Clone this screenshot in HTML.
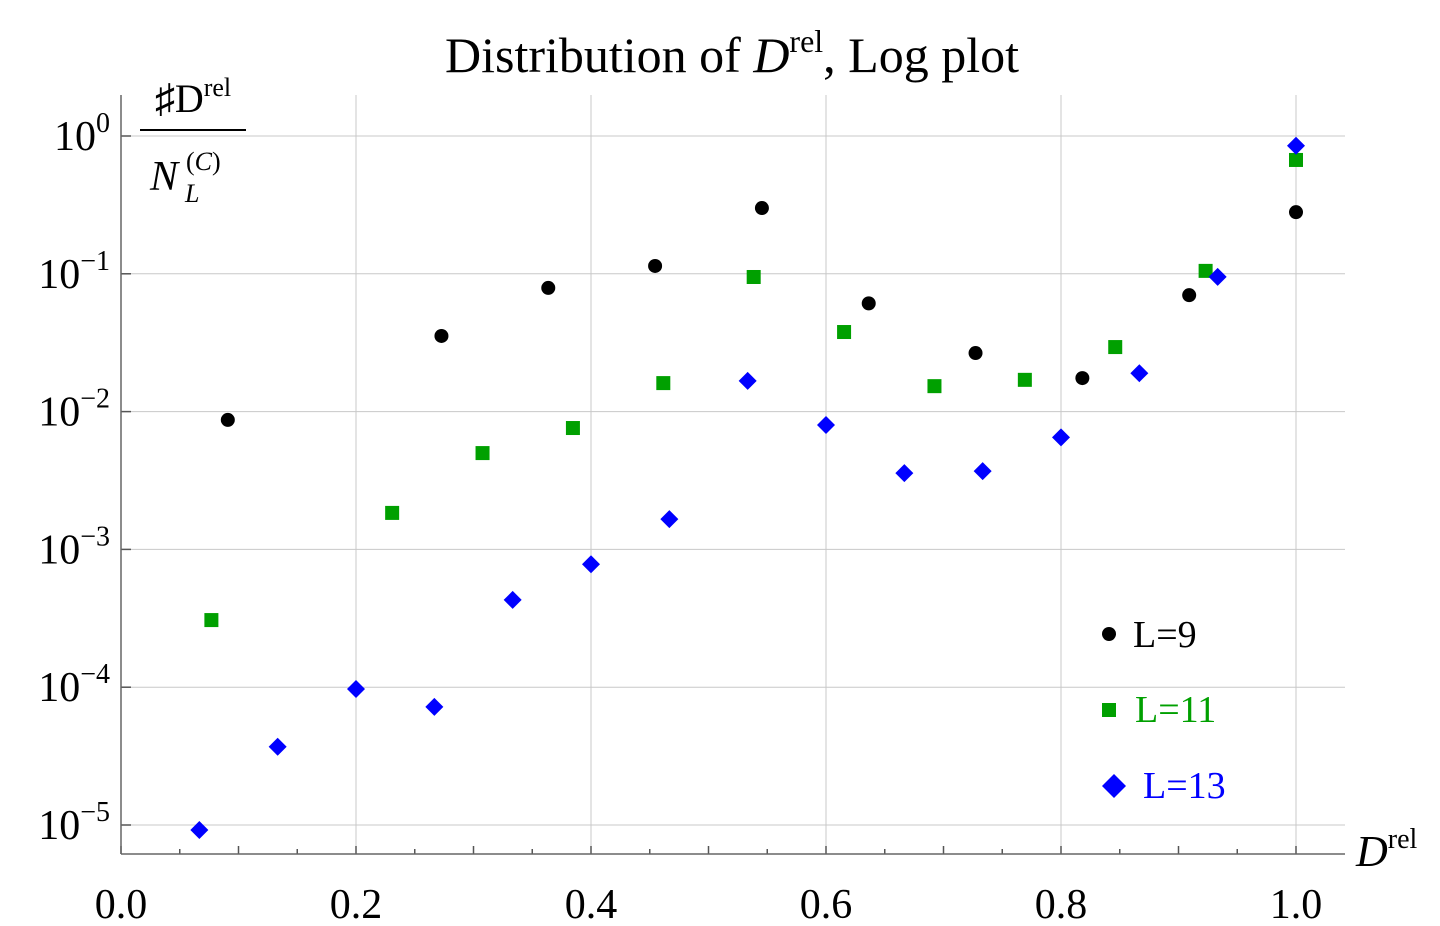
<!DOCTYPE html>
<html><head><meta charset="utf-8"><style>
body{margin:0;background:#fff}
svg{display:block;font-family:"Liberation Serif",serif}
</style></head><body>
<svg id="chart" width="1440" height="926" viewBox="0 0 1440 926">
<text x="732" y="72" text-anchor="middle" font-size="50">Distribution of <tspan font-style="italic">D</tspan><tspan font-size="32" dy="-20">rel</tspan><tspan dy="20">, Log plot</tspan></text>
<g id="grid"></g>
<g id="axes"></g>
<g id="marks"></g>
<g>
<text x="193" y="112" text-anchor="middle" font-size="40">♯D<tspan font-size="26" dy="-16">rel</tspan></text>
<line x1="140" y1="130" x2="246" y2="130" stroke="#000" stroke-width="2"/>
<text x="150" y="190" font-size="42" font-style="italic">N</text>
<text x="185" y="202" font-size="26" font-style="italic">L</text>
<text x="186" y="170" font-size="26">(<tspan font-style="italic">C</tspan>)</text>
</g>
<text x="1356" y="866" font-size="44" font-style="italic">D<tspan font-size="28" font-style="normal" dy="-18">rel</tspan></text>
<g>
<g><circle cx="1109" cy="634" r="7"/><text x="1133" y="647" font-size="38">L=9</text></g>
<g><rect x="1102" y="703" width="14" height="14" fill="#00a000"/><text x="1135" y="722" font-size="38" fill="#00a000">L=11</text></g>
<g><polygon points="1114,774 1126,786 1114,798 1102,786" fill="#0000ff"/><text x="1143" y="798" font-size="38" fill="#0000ff">L=13</text></g>
</g>
</svg>
<script>
const xTicks=[0.0,0.2,0.4,0.6,0.8,1.0];
const xTickLabels=["0.0","0.2","0.4","0.6","0.8","1.0"];
const yExps=[0,-1,-2,-3,-4,-5];
const l9X=[1/11,3/11,4/11,5/11,6/11,7/11,8/11,9/11,10/11,1];
const l9Y=[0.0087,0.0354,0.079,0.114,0.30,0.061,0.0266,0.0175,0.070,0.28];
const l11X=[1/13,3/13,4/13,5/13,6/13,7/13,8/13,9/13,10/13,11/13,12/13,1];
const l11Y=[0.000307,0.00184,0.0050,0.0076,0.0161,0.0948,0.0378,0.0153,0.0170,0.0294,0.105,0.67];
const l13X=[1/15,2/15,3/15,4/15,5/15,6/15,7/15,8/15,9/15,10/15,11/15,12/15,13/15,14/15,1];
const l13Y=[9.2e-6,3.7e-5,9.7e-5,7.2e-5,0.00043,0.00078,0.00166,0.0167,0.0080,0.00358,0.0037,0.0065,0.019,0.095,0.85];

const NS="http://www.w3.org/2000/svg";
const X0=121,XS=1175,Y0=136,YD=137.8,AXY=854,XR=1345;
const sx=v=>X0+v*XS;
const sy=v=>Y0-YD*Math.log10(v);
function mk(tag,attrs,parent){const e=document.createElementNS(NS,tag);for(const k in attrs)e.setAttribute(k,attrs[k]);parent.appendChild(e);return e;}
const grid=document.getElementById('grid'),axes=document.getElementById('axes'),marks=document.getElementById('marks');
xTicks.forEach((t,i)=>{
  if(t>0){const g=mk('line',{x1:sx(t),x2:sx(t),y1:95,y2:AXY,stroke:'#c8c8c8','stroke-width':1},grid);
  
  }
  const l=mk('text',{x:sx(t),y:918,'text-anchor':'middle','font-size':42},axes);l.textContent=xTickLabels[i];
  
  
});
yExps.forEach(e=>{
  const y=sy(Math.pow(10,e));
  const g=mk('line',{x1:X0,x2:XR,y1:y,y2:y,stroke:'#c8c8c8','stroke-width':1},grid);
  
  
  mk('line',{x1:X0,x2:X0+10,y1:y,y2:y,stroke:'#555','stroke-width':1.5},axes);
  const t=mk('text',{x:110,y:y+14,'text-anchor':'end','font-size':42},axes);
  t.innerHTML='10<tspan font-size="28" dy="-18">'+(e===0?'0':'−'+(-e))+'</tspan>';
  
  
});
for(let k=0;k<=21;k++){const v=k*0.05;if(sx(v)>XR)break;
  const len=k%2===0?8:5;
  mk('line',{x1:sx(v),x2:sx(v),y1:AXY,y2:AXY-len,stroke:'#555','stroke-width':1.5},axes);}
const xa=mk('line',{x1:X0,x2:XR,y1:AXY,y2:AXY,stroke:'#666','stroke-width':1.5},axes);


const ya=mk('line',{x1:X0,x2:X0,y1:95,y2:AXY,stroke:'#666','stroke-width':1.5},axes);


l9X.forEach((x,i)=>{const c=mk('circle',{cx:sx(x),cy:sy(l9Y[i]),r:7,fill:'#000'},marks);
  
  });
l11X.forEach((x,i)=>{const cx=sx(x),cy=sy(l11Y[i]);const r=mk('rect',{x:cx-7,y:cy-7,width:14,height:14,fill:'#00a000'},marks);
  
  });
l13X.forEach((x,i)=>{const cx=sx(x),cy=sy(l13Y[i]);const p=mk('polygon',{points:`${cx},${cy-9} ${cx+9},${cy} ${cx},${cy+9} ${cx-9},${cy}`,fill:'#0000ff'},marks);
  
  });
</script>
</body></html>
